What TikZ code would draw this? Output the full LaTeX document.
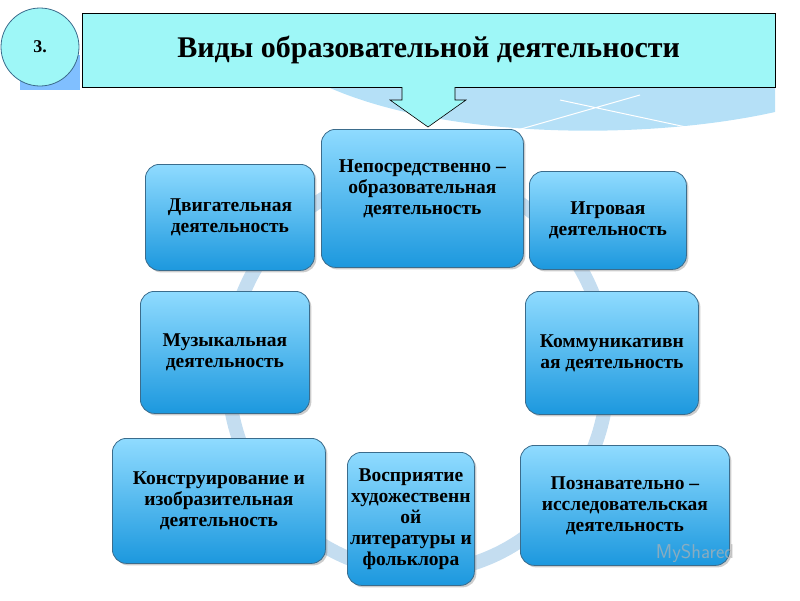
\documentclass[tikz,border=0pt]{standalone}
\usepackage{fontspec}
\setmainfont{Liberation Serif}
\usetikzlibrary{shadows}
\definecolor{topc}{HTML}{8FDBFF}
\definecolor{botc}{HTML}{1C98DE}
\definecolor{edgec}{HTML}{3B6C8C}
\definecolor{cyanc}{HTML}{9EF7F7}
\definecolor{ringc}{HTML}{C4DDF0}
\definecolor{swc}{HTML}{B5E0F7}
\tikzset{
 act/.style={draw=edgec,line width=0.8pt,rounded corners=14pt,top color=topc,bottom color=botc,
   drop shadow={shadow xshift=2pt,shadow yshift=-2pt,opacity=0.4},
   font=\bfseries\fontsize{19.5}{21}\selectfont,align=center,inner sep=0pt},
}
\begin{document}
\begin{tikzpicture}[x=1pt,y=-1pt]
\useasboundingbox (0,0) rectangle (800,600);
% background swoosh
\fill[swc] (330,88) .. controls (450,140) and (650,140) .. (775,112) -- (775,40) -- (330,40) -- cycle;
\fill[blue!50!cyan!50] (20,55) rectangle (80,90);
\draw[white,line width=1pt] (500,135)--(640,95) (560,100)--(700,130);
% ring
\draw[line width=14pt,ringc] (418,372) ellipse [x radius=190, y radius=200];
% title
\node[draw=black,fill=cyanc,minimum width=693pt,minimum height=74pt,anchor=north west,inner sep=0pt,
  font=\bfseries\fontsize{30}{34}\selectfont] (title) at (82,13) {Виды образовательной деятельности};
\node[draw=edgec,line width=0.8pt,fill=cyanc,circle,minimum size=78pt,inner sep=0pt,
  font=\bfseries\fontsize{18}{20}\selectfont] (num) at (40,47) {3.};
\draw[black,fill=cyanc,line width=0.6pt] (402,87) -- (402,100) -- (390,100) -- (428,127) -- (466,100) -- (455,100) -- (455,87);
% boxes
\node[act,minimum width=202pt,minimum height=138pt,anchor=north west,text depth=22pt] (nod) at (321,129) {Непосредственно –\\образовательная\\деятельность};
\node[act,minimum width=169pt,minimum height=106pt,anchor=north west] (dv) at (145,164) {Двигательная\\деятельность};
\node[act,minimum width=157pt,minimum height=98pt,anchor=north west] (ig) at (529,171) {Игровая\\деятельность};
\node[act,minimum width=169pt,minimum height=122pt,anchor=north west] (mu) at (140,291) {Музыкальная\\деятельность};
\node[act,minimum width=173pt,minimum height=123pt,anchor=north west] (ko) at (525,291) {Коммуникативн\\ая деятельность};
\node[act,minimum width=213pt,minimum height=125pt,anchor=north west] (kon) at (112,438) {Конструирование и\\изобразительная\\деятельность};
\node[act,minimum width=127pt,minimum height=133pt,anchor=north west] (vo) at (347,452) {Восприятие\\художественн\\ой\\литературы и\\фольклора};
\node[act,minimum width=209pt,minimum height=120pt,anchor=north west] (po) at (520,445) {Познавательно –\\исследовательская\\деятельность};
\node[gray!60,font=\sffamily\fontsize{20}{22}\selectfont,opacity=0.7] (wm) at (695,553) {MyShared};
\end{tikzpicture}
\end{document}
